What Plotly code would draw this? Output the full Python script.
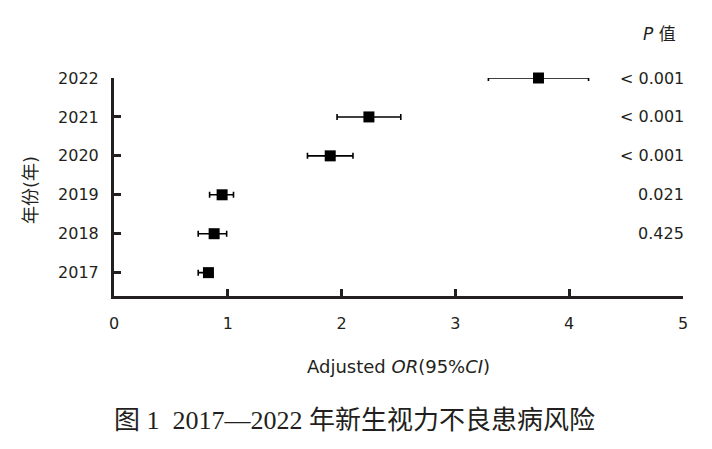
import plotly.graph_objects as go

years = [2022, 2021, 2020, 2019, 2018, 2017]
or_vals = [3.73, 2.24, 1.90, 0.95, 0.88, 0.83]
ci_low = [3.29, 1.96, 1.70, 0.84, 0.74, 0.74]
ci_high = [4.17, 2.52, 2.10, 1.05, 0.99, 0.86]
p_labels = ["< 0.001", "< 0.001", "< 0.001", "0.021", "0.425", ""]
x_ticks = [0, 1, 2, 3, 4, 5]

INK = "#231f20"
SANS = "DejaVu Sans, Noto Sans CJK SC, sans-serif"
SERIF = "Liberation Serif, Noto Sans CJK SC, serif"

# plot area in reference pixels (page has an 8px body margin)
PL, PR, PT, PB = 114, 683, 78, 296
def px(X):
    return (X - PL) / (PR - PL)
def py(Y):
    return (PB - Y) / (PB - PT)

err_plus = [h - o for h, o in zip(ci_high, or_vals)]
err_minus = [o - l for o, l in zip(or_vals, ci_low)]

fig = go.Figure()
fig.add_trace(go.Scatter(
    x=or_vals, y=years, mode="markers",
    marker=dict(symbol="square", size=11, color="black"),
    error_x=dict(type="data", symmetric=False, array=err_plus, arrayminus=err_minus,
                 color="black", thickness=1.6, width=3),
    cliponaxis=False, showlegend=False, hoverinfo="skip",
))

for y, p in zip(years, p_labels):
    if p:
        fig.add_annotation(x=px(686), y=y, xref="paper", yref="y", text=p, showarrow=False,
                           xanchor="right", yanchor="middle",
                           font=dict(family=SANS, size=16, color=INK))

fig.add_annotation(x=px(678), y=py(34), xref="paper", yref="paper", text="<i>P</i> 值",
                   showarrow=False, xanchor="right", yanchor="middle",
                   font=dict(family=SANS, size=17, color=INK))

fig.add_annotation(x=px(398), y=py(366), xref="paper", yref="paper",
                   text="Adjusted <i>OR</i>(95%<i>CI</i>)", showarrow=False,
                   xanchor="center", yanchor="middle",
                   font=dict(family=SANS, size=18, color=INK))

fig.add_annotation(x=px(30), y=py(190), xref="paper", yref="paper",
                   text="年份(年)", showarrow=False, textangle=-90,
                   xanchor="center", yanchor="middle",
                   font=dict(family=SANS, size=18, color=INK))

fig.add_annotation(x=px(354), y=py(420), xref="paper", yref="paper",
                   text="图 1  2017—2022 年新生视力不良患病风险", showarrow=False,
                   xanchor="center", yanchor="middle",
                   font=dict(family=SERIF, size=26, color=INK))

OFF = 8
W, H = 712 - OFF, 449 - OFF
fig.update_layout(
    width=W, height=H,
    margin=dict(l=PL - OFF, r=W - (PR - OFF), t=PT - OFF, b=H - (PB - OFF)),
    paper_bgcolor="white", plot_bgcolor="white",
    xaxis=dict(range=[0, 5], tickvals=x_ticks, ticktext=[str(t) for t in x_ticks],
               showline=True, linecolor=INK, linewidth=3,
               ticks="inside", ticklen=7, tickwidth=3, tickcolor=INK,
               showgrid=False, zeroline=False, ticklabelstandoff=11,
               tickfont=dict(family=SANS, size=16, color=INK), fixedrange=True),
    yaxis=dict(range=[2016.40, 2022.0], tickvals=years, ticktext=[str(y) for y in years],
               showline=True, linecolor=INK, linewidth=3,
               ticks="inside", ticklen=7, tickwidth=3, tickcolor=INK,
               showgrid=False, zeroline=False, ticklabelstandoff=9,
               tickfont=dict(family=SANS, size=16, color=INK), fixedrange=True),
)

fig.write_html("out.html")
